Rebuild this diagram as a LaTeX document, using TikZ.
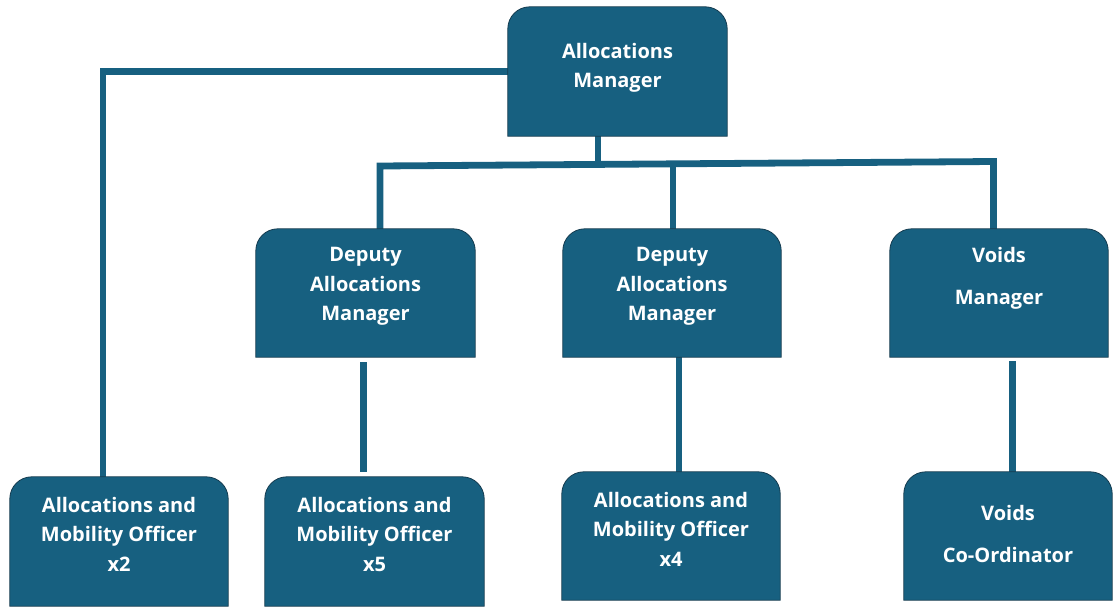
\documentclass[tikz,border=0pt]{standalone}
\usepackage{fontspec}
\setmainfont{Open Sans}
\usetikzlibrary{calc}
\definecolor{boxfill}{RGB}{23,96,128}
\definecolor{boxline}{RGB}{22,60,80}
\tikzset{
  boxnode/.style={rectangle, inner sep=0pt, draw=none},
  boxshape/.style={fill=boxfill, draw=boxline, line width=0.8pt},
  orgtext/.style={text=white, font=\fontsize{20}{29.5}\selectfont\bfseries, align=center, inner sep=0pt},
  widetext/.style={orgtext, font=\fontsize{20}{42}\selectfont\bfseries},
  conn/.style={draw=boxfill, line width=6.8pt}
}
\newcommand\orgshape[1]{%
  \filldraw[boxshape] (#1.south west) -- ([yshift=-22pt]#1.north west)
    arc[start angle=180,end angle=90,radius=22pt] -- ([xshift=-22pt]#1.north east)
    arc[start angle=90,end angle=0,radius=22pt] -- (#1.south east) -- cycle;}
\begin{document}
\begin{tikzpicture}[x=1pt,y=1pt]
\useasboundingbox (0,0) rectangle (1118,606);
% box nodes
\node[boxnode, minimum width=219pt, minimum height=129pt] (top) at (617.5,534.5) {};
\node[boxnode, minimum width=219pt, minimum height=128pt] (d1) at (365.5,313) {};
\node[boxnode, minimum width=218pt, minimum height=128pt] (d2) at (672,313) {};
\node[boxnode, minimum width=218pt, minimum height=128pt] (vm) at (999,313) {};
\node[boxnode, minimum width=218pt, minimum height=129pt] (b1) at (119,64.5) {};
\node[boxnode, minimum width=219pt, minimum height=129pt] (b2) at (374.5,64.5) {};
\node[boxnode, minimum width=218pt, minimum height=128pt] (b3) at (671,70) {};
\node[boxnode, minimum width=208pt, minimum height=128pt] (b4) at (1008,70) {};
% bus coordinates
\coordinate (busL) at (380,440);
\coordinate (busR) at (993.5,444.5);
% connectors
\draw[conn] (top.west) -| ([xshift=-16pt]b1.north);
\draw[conn] ([xshift=-19.5pt]top.south) -- ++(0,-32);
\draw[conn] ([xshift=14.5pt]d1.north) -- (busL) -- (busR) -- ([xshift=-5.5pt]vm.north);
\draw[conn] ([xshift=1pt]d2.north) -- ([xshift=1pt]d2.north |- busL);
\draw[conn, shorten <=5pt, shorten >=5pt] ([xshift=-1.8pt]d1.south) -- ([xshift=-1.8pt]d1.south |- b2.north);
\draw[conn] ([xshift=7pt]d2.south) -- ([xshift=7pt]d2.south |- b3.north);
\draw[conn, shorten <=4pt] ([xshift=13.5pt]vm.south) -- ([xshift=13.5pt]vm.south |- b4.north);
% shapes
\orgshape{top}\orgshape{d1}\orgshape{d2}\orgshape{vm}
\orgshape{b1}\orgshape{b2}\orgshape{b3}\orgshape{b4}
% texts
\node[orgtext] (ttop) at ([yshift=3.5pt]top.center) {Allocations\\Manager};
\node[orgtext] (td1) at ([yshift=6.5pt]d1.center) {Deputy\\Allocations\\Manager};
\node[orgtext] (td2) at ([yshift=6.5pt]d2.center) {Deputy\\Allocations\\Manager};
\node[widetext] (tvm) at ([yshift=14.5pt]vm.center) {Voids\\Manager};
\node[orgtext] (tb1) at ([yshift=7.5pt]b1.center) {Allocations and\\Mobility Officer\\x2};
\node[orgtext] (tb2) at ([yshift=7.5pt]b2.center) {Allocations and\\Mobility Officer\\x5};
\node[orgtext] (tb3) at ([yshift=7pt]b3.center) {Allocations and\\Mobility Officer\\x4};
\node[widetext] (tb4) at ([yshift=2.5pt]b4.center) {Voids\\Co-Ordinator};
\end{tikzpicture}
\end{document}
